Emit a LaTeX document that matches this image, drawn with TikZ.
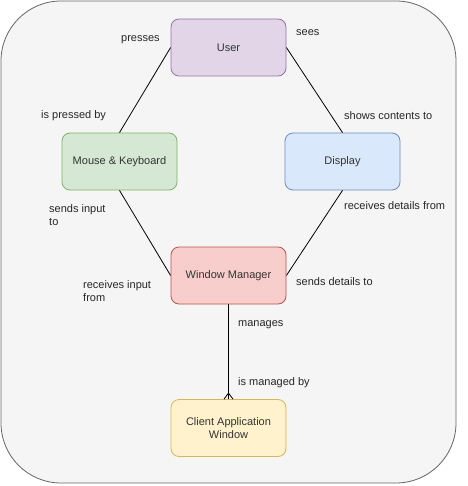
\documentclass[tikz,border=0pt]{standalone}
\usepackage{fontspec}
\setmainfont{Liberation Sans}
\begin{document}
\begin{tikzpicture}[x=1pt,y=-1pt,
  font=\fontsize{11}{13}\selectfont,
  ent/.style={draw, rounded corners=8pt, minimum width=115pt, minimum height=57pt, inner sep=0pt, align=center, text=black!80, line width=0.8pt},
  lbl/.style={inner sep=0pt, text=black!85, anchor=west, align=left},
  conn/.style={draw=black, line width=0.8pt}
]
\definecolor{outerfill}{HTML}{F5F5F5}
\definecolor{outerline}{HTML}{666666}
\definecolor{purplef}{HTML}{E1D5E7}\definecolor{purpled}{HTML}{9673A6}
\definecolor{greenf}{HTML}{D5E8D4}\definecolor{greend}{HTML}{82B366}
\definecolor{bluef}{HTML}{DAE8FC}\definecolor{blued}{HTML}{6C8EBF}
\definecolor{redf}{HTML}{F8CECC}\definecolor{redd}{HTML}{B85450}
\definecolor{yellowf}{HTML}{FFF2CC}\definecolor{yellowd}{HTML}{D6B656}
\useasboundingbox (0,0) rectangle (467,486);
\draw[fill=outerfill, draw=outerline, line width=0.8pt, rounded corners=60pt] (1,1) rectangle (456,483);

\node[ent, fill=purplef, draw=purpled] (user) at (228.5,47.5) {User};
\node[ent, fill=greenf, draw=greend] (mk) at (119.5,161.5) {Mouse \& Keyboard};
\node[ent, fill=bluef, draw=blued] (disp) at (342.5,161.5) {Display};
\node[ent, fill=redf, draw=redd] (wm) at (228.5,275.5) {Window Manager};
\node[ent, fill=yellowf, draw=yellowd] (cl) at (228.5,428) {Client Application\\Window};

\draw[conn] (user.west) -- (mk.north);
\draw[conn] (user.east) -- (disp.north);
\draw[conn] (mk.south) -- (wm.west);
\draw[conn] (disp.south) -- (wm.east);
\draw[conn] (wm.south) -- (cl.north);
\draw[conn] ([yshift=6pt]cl.north) -- ([xshift=-4.5pt]cl.north);
\draw[conn] ([yshift=6pt]cl.north) -- ([xshift=4.5pt]cl.north);

\node[lbl] (l1) at (121,40) {presses};
\node[lbl] (l2) at (296,33) {sees};
\node[lbl] (l3) at (41,116) {is pressed by};
\node[lbl] (l4) at (344,116) {shows contents to};
\node[lbl, anchor=north west] (l5) at (49,204.5) {sends input\\to};
\node[lbl] (l6) at (344,206) {receives details from};
\node[lbl, anchor=north west] (l7) at (83,280.5) {receives input\\from};
\node[lbl] (l8) at (296,282) {sends details to};
\node[lbl] (l9) at (238,325) {manages};
\node[lbl] (l10) at (238,382.5) {is managed by};
\end{tikzpicture}
\end{document}
